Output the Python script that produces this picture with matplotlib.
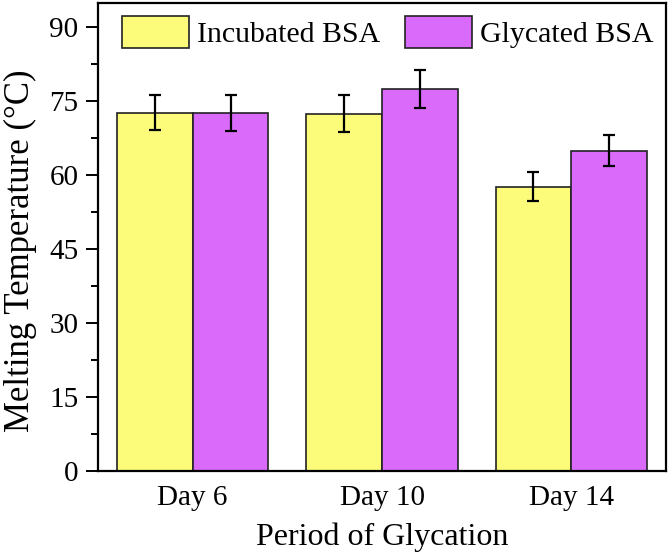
import numpy as np
import matplotlib
matplotlib.use("Agg")
import matplotlib.pyplot as plt
from matplotlib.ticker import MultipleLocator

days = ["Day 6", "Day 10", "Day 14"]
incubated = [72.6, 72.4, 57.6]
incubated_err = [3.6, 3.7, 2.9]
glycated = [72.5, 77.4, 64.9]
glycated_err = [3.6, 3.9, 3.1]

plt.rcParams['font.family'] = ['Liberation Serif', 'DejaVu Serif']

fig = plt.figure(figsize=(6.72, 5.54), dpi=100)
ax = fig.add_axes([98 / 672, 1 - 471 / 554, 568 / 672, 468 / 554])

x = np.arange(len(days))
w = 0.4
err_kw = dict(elinewidth=1.6, capsize=4, capthick=1.6, ecolor="black")
ax.bar(x - w / 2, incubated, w, yerr=incubated_err, color="#FCFC7A",
       edgecolor="#222222", linewidth=1.2, label="Incubated BSA", error_kw=err_kw)
ax.bar(x + w / 2, glycated, w, yerr=glycated_err, color="#DA6BFA",
       edgecolor="#222222", linewidth=1.2, label="Glycated BSA", error_kw=err_kw)

ax.set_xlim(-0.5, 2.5)
ax.set_ylim(0, 94.8)
ax.set_xticks(x)
ax.set_xticklabels(days)
ax.yaxis.set_major_locator(MultipleLocator(15))
ax.yaxis.set_minor_locator(MultipleLocator(7.5))
ax.tick_params(axis="x", length=0, labelsize=21, pad=10)
ax.tick_params(axis="y", which="major", direction="out", length=9, width=1.4, labelsize=21, pad=5)
ax.tick_params(axis="y", which="minor", direction="out", length=5, width=1.4)
for s in ax.spines.values():
    s.set_linewidth(1.6)

ax.set_xlabel("Period of Glycation", fontsize=23)
ax.set_ylabel("Melting Temperature (°C)", fontsize=25)
ax.xaxis.set_label_coords(0.5, -0.11)
ax.yaxis.set_label_coords(-0.108, 0.471)

ax.legend(loc="upper left", ncol=2, frameon=False, fontsize=21.5,
          handlelength=2.25, handleheight=1.25, columnspacing=0.85,
          handletextpad=0.25, borderpad=0, borderaxespad=0,
          bbox_to_anchor=(24 / 568, 1 - 13 / 468))

fig.savefig("out.png", dpi=100)
